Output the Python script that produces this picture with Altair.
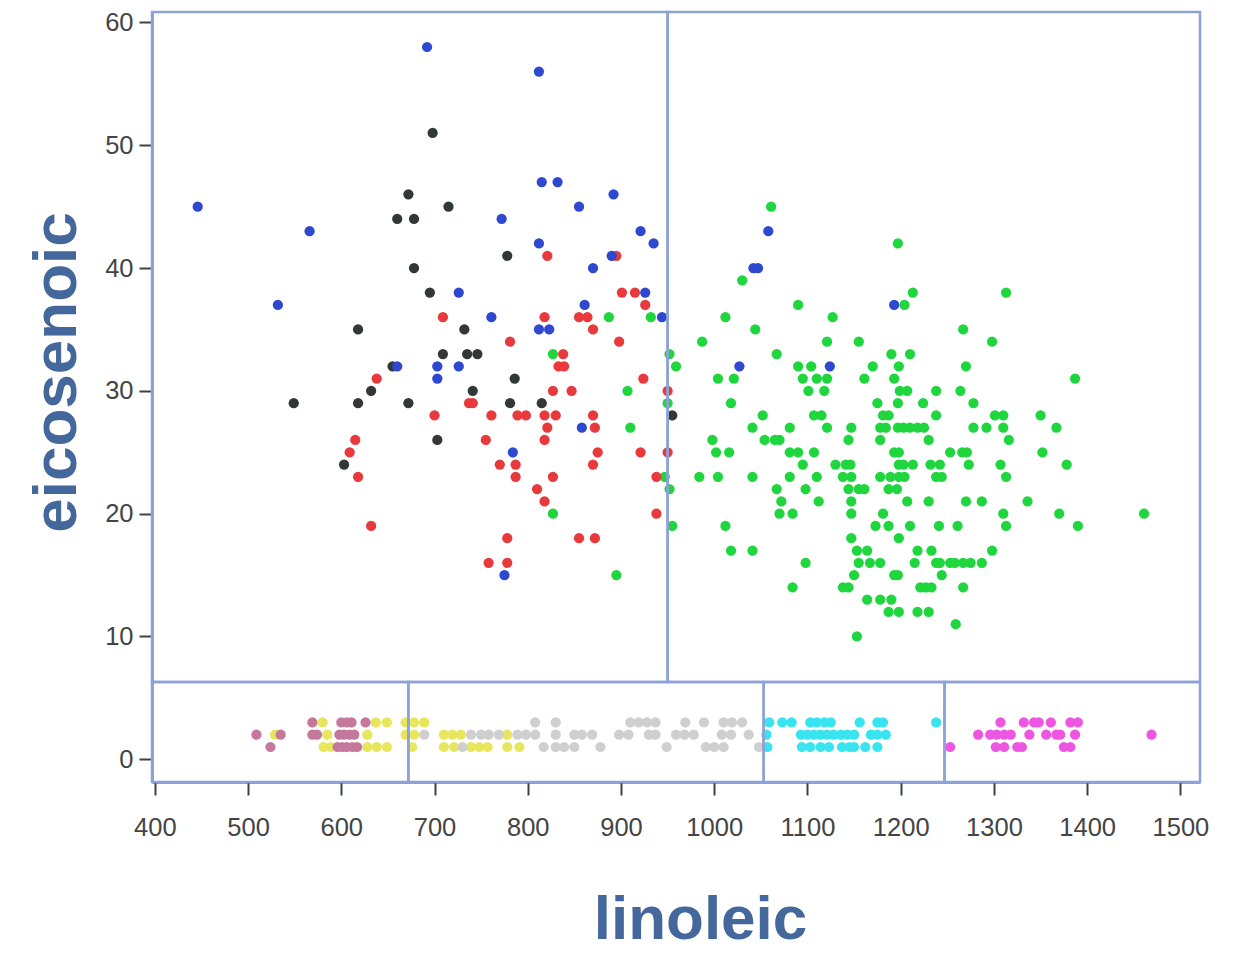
import altair as alt
import pandas as pd

# ---- data (eicosenoic value -> list of linoleic values) ----
south_apulia = {
    45: [1061], 42: [1197], 39: [1030], 38: [1213, 1313], 37: [1090, 1204],
    36: [887, 932, 1012, 1127], 35: [1044, 1267], 34: [987, 1121, 1155, 1298],
    33: [827, 952, 1067, 1190, 1210], 32: [959, 1090, 1104, 1170, 1198, 1270],
    31: [1004, 1021, 1095, 1110, 1121, 1161, 1193, 1387],
    30: [907, 1101, 1118, 1199, 1207, 1238, 1264],
    29: [950, 1018, 1175, 1197, 1224, 1278],
    28: [1052, 1107, 1115, 1181, 1187, 1238, 1301, 1310, 1350],
    27: [910, 1041, 1081, 1121, 1147, 1178, 1184, 1197, 1203, 1210, 1218, 1225,
         1278, 1292, 1310, 1367],
    26: [998, 1054, 1065, 1070, 1144, 1178, 1230, 1316],
    25: [1002, 1016, 1081, 1090, 1107, 1193, 1198, 1253, 1266, 1271, 1352],
    24: [1095, 1130, 1141, 1146, 1198, 1203, 1213, 1232, 1242, 1273, 1307, 1378],
    23: [947, 984, 1004, 1041, 1081, 1110, 1138, 1147, 1178, 1189, 1198, 1204,
         1238, 1244, 1313],
    22: [952, 1067, 1098, 1144, 1155, 1161, 1187, 1196],
    21: [1072, 1112, 1147, 1207, 1230, 1270, 1287, 1336],
    20: [827, 1070, 1084, 1147, 1181, 1310, 1370, 1461],
    19: [955, 1012, 1173, 1187, 1210, 1241, 1261, 1313, 1390],
    18: [1147, 1198],
    17: [1018, 1041, 1153, 1164, 1218, 1233, 1298],
    16: [1098, 1155, 1167, 1178, 1215, 1238, 1242, 1253, 1258, 1267, 1275, 1287],
    15: [895, 1150, 1193, 1197, 1244],
    14: [1084, 1138, 1144, 1221, 1227, 1233, 1267],
    13: [1164, 1178, 1190], 12: [1187, 1198, 1218, 1230], 11: [1259], 10: [1153],
}
calabria = {
    41: [821, 895], 38: [901, 915], 37: [926], 36: [709, 818, 855, 864], 35: [870],
    34: [781, 898], 33: [838], 32: [833, 839], 31: [638, 924], 30: [827, 847, 950],
    29: [737, 741], 28: [700, 761, 789, 798, 818, 830, 870], 27: [821, 872],
    26: [615, 755, 818], 25: [609, 875, 921, 950], 24: [770, 787, 870],
    23: [618, 787, 827, 938], 22: [810], 21: [818], 20: [938], 19: [632],
    18: [778, 855, 872], 16: [758, 778],
}
north_apulia = {
    51: [698], 46: [672], 45: [715], 44: [660, 678], 41: [778], 40: [678], 38: [695],
    35: [618, 732], 33: [709, 735, 746], 32: [655], 31: [786], 30: [632, 741],
    29: [549, 618, 672, 781, 815], 28: [955], 26: [703], 24: [603],
}
sicily = {
    58: [692], 56: [812], 47: [815, 832], 46: [892], 45: [446, 855], 44: [772],
    43: [566, 921, 1058], 42: [812, 935], 41: [890], 40: [870, 1042, 1047],
    38: [726, 926], 37: [532, 861, 1193], 36: [761, 944], 35: [812, 823],
    32: [660, 703, 726, 1027, 1124], 31: [703], 27: [858], 25: [784], 15: [775],
}
east_liguria = {
    3: [580, 637, 649, 669, 678, 689],
    2: [529, 585, 628, 669, 678, 710, 719, 728, 778],
    1: [581, 589, 628, 638, 649, 676, 710, 721, 739, 748, 757, 778, 791],
}
west_liguria = {
    3: [808, 830, 910, 919, 928, 937, 969, 989, 1010, 1019, 1030],
    2: [689, 739, 750, 758, 769, 789, 798, 808, 830, 850, 858, 869, 898, 908, 930,
        937, 959, 968, 978, 1008, 1018, 1037],
    1: [730, 817, 830, 839, 850, 878, 949, 991, 1000, 1010, 1048],
}
umbria = {
    3: [569, 600, 606, 611, 626],
    2: [509, 535, 569, 574, 598, 603, 609, 614],
    1: [524, 596, 601, 606, 612, 617],
}
inland_sardinia = {
    3: [1059, 1073, 1083, 1103, 1110, 1118, 1125, 1156, 1175, 1181, 1238],
    2: [1056, 1093, 1100, 1107, 1114, 1121, 1128, 1136, 1143, 1150, 1168, 1175, 1184],
    1: [1057, 1094, 1103, 1114, 1123, 1137, 1145, 1150, 1162, 1175],
}
coast_sardinia = {
    3: [1307, 1332, 1343, 1348, 1361, 1382, 1390],
    2: [1283, 1296, 1303, 1311, 1318, 1338, 1356, 1367, 1371, 1387, 1469],
    1: [1253, 1302, 1311, 1325, 1330, 1375, 1382],
}

region_names = ["South-Apulia", "Calabria", "North-Apulia", "Sicily", "East-Liguria",
                "West-Liguria", "Umbria", "Inland-Sardinia", "Coast-Sardinia"]
region_data = [south_apulia, calabria, north_apulia, sicily, east_liguria,
               west_liguria, umbria, inland_sardinia, coast_sardinia]
region_colors = ["#1fd63e", "#e8393c", "#323836", "#2e48d0", "#e8e65c",
                 "#cfcfcf", "#c4789c", "#38e4f0", "#ec56e0"]

# partition (tree split) boundaries
x_domain = [397, 1521]
y_domain = [-1.85, 60.85]
eic_split = 6.3
upper_split = 950
lower_splits = [672, 1053, 1247]

rows = []
for name, d in zip(region_names, region_data):
    for eic, lins in d.items():
        for lin in lins:
            rows.append({"linoleic": lin, "eicosenoic": eic, "region": name})
points = pd.DataFrame(rows)

rect_rows = []
ux = [x_domain[0], upper_split, x_domain[1]]
for a, b in zip(ux[:-1], ux[1:]):
    rect_rows.append({"x1": a, "x2": b, "y1": eic_split, "y2": y_domain[1]})
lx = [x_domain[0]] + lower_splits + [x_domain[1]]
for a, b in zip(lx[:-1], lx[1:]):
    rect_rows.append({"x1": a, "x2": b, "y1": y_domain[0], "y2": eic_split})
rects = pd.DataFrame(rect_rows)

FONT = "Liberation Sans"
xscale = alt.Scale(domain=x_domain, nice=False, zero=False)
yscale = alt.Scale(domain=y_domain, nice=False, zero=False)

x_axis = alt.Axis(values=list(range(400, 1501, 100)), format="d", title="linoleic",
                  titleX=548, titleY=156, titleAlign="center",
                  titleBaseline="alphabetic", labelPadding=20)
y_axis = alt.Axis(values=list(range(0, 61, 10)), format="d", title="eicosenoic",
                  titleX=-77, titleY=360, titleAngle=270, titleAlign="center",
                  titleBaseline="alphabetic", labelPadding=6)

pts = alt.Chart(points).mark_circle(size=105, opacity=1).encode(
    x=alt.X("linoleic:Q", scale=xscale, axis=x_axis),
    y=alt.Y("eicosenoic:Q", scale=yscale, axis=y_axis),
    color=alt.Color("region:N", scale=alt.Scale(domain=region_names, range=region_colors),
                    legend=None),
)

box = alt.Chart(rects).mark_rect(fillOpacity=0, stroke="#8da2d6", strokeWidth=2.5).encode(
    x=alt.X("x1:Q", scale=xscale, axis=x_axis),
    x2="x2:Q",
    y=alt.Y("y1:Q", scale=yscale, axis=y_axis),
    y2="y2:Q",
)

chart = alt.layer(pts, box).properties(
    width=1048, height=770,
    autosize=alt.AutoSizeParams(type="none"),
    padding={"left": 144, "top": 4, "right": 20, "bottom": 173},
).configure_view(stroke=None).configure_axis(
    grid=False, zindex=1,
    domainColor="#3d4343", domainWidth=2, tickColor="#3d4343", tickWidth=2, tickSize=13,
    labelFont=FONT, labelFontSize=25.5, labelColor="#444444",
    titleFont=FONT, titleFontSize=62, titleFontWeight="bold", titleColor="#44689c",
)

chart.save("out.html", embed_options={"renderer": "svg", "actions": False})
